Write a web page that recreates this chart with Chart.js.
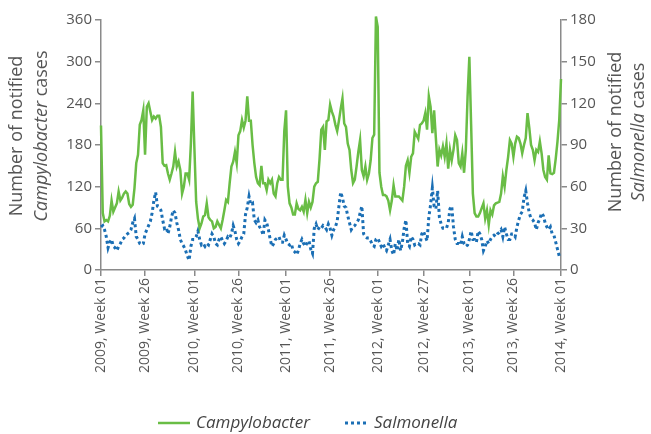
<!DOCTYPE html>
<html>
<head>
<meta charset="utf-8">
<title>Campylobacter and Salmonella cases</title>
<script src="https://cdn.jsdelivr.net/npm/chart.js@4"></script>
<style>
  body { margin: 0; background: #fff; }
  canvas { display: block; }
</style>
</head>
<body>
<canvas id="chart" width="651" height="434"></canvas>
<script>
// weeks per year, 2009 had 53 ISO weeks
var years = [2009, 2010, 2011, 2012, 2013];
var weeksInYear = [53, 52, 52, 52, 52];

var tickLabels = ['2009, Week 01', '2009, Week 26', '2010, Week 01', '2010, Week 26',
    '2011, Week 01', '2011, Week 26', '2012, Week 01', '2012, Week 27',
    '2013, Week 01', '2013, Week 26', '2014, Week 01'];

var campylobacter = [
    208, 82, 70, 72, 70, 78, 100, 84, 90, 96,
    113, 100, 104, 110, 113, 110, 95, 91, 94, 118,
    154, 166, 209, 216, 230, 166, 235, 240, 228, 216,
    221, 218, 222, 222, 206, 154, 150, 151, 139, 130,
    139, 149, 170, 149, 156, 144, 110, 120, 139, 139,
    130, 182, 257, 175, 98, 74, 60, 67, 77, 79,
    96, 76, 72, 70, 60, 62, 70, 65, 60, 72,
    86, 101, 98, 125, 149, 156, 170, 154, 194, 200,
    216, 205, 215, 250, 215, 215, 180, 154, 134, 125,
    122, 150, 125, 125, 115, 130, 125, 130, 110, 106,
    125, 134, 130, 130, 200, 230, 120, 96, 90, 80,
    80, 96, 88, 86, 91, 84, 101, 82, 98, 90,
    98, 120, 125, 127, 160, 202, 206, 173, 214, 216,
    238, 228, 221, 209, 200, 215, 232, 247, 211, 206,
    182, 173, 144, 125, 130, 149, 170, 187, 144, 135,
    149, 130, 139, 158, 190, 195, 365, 350, 140, 120,
    108, 108, 106, 100, 86, 100, 122, 106, 106, 106,
    103, 100, 120, 150, 158, 140, 163, 168, 199, 194,
    189, 209, 211, 215, 226, 202, 250, 235, 197, 230,
    190, 149, 173, 165, 178, 163, 182, 146, 173, 158,
    173, 194, 187, 154, 149, 168, 140, 173, 250, 307,
    210, 110, 82, 77, 77, 82, 89, 96, 74, 86,
    65, 86, 80, 93, 96, 97, 98, 110, 135, 120,
    144, 163, 187, 182, 163, 182, 192, 190, 182, 168,
    180, 190, 226, 205, 180, 173, 158, 173, 170, 185,
    168, 144, 134, 130, 165, 139, 138, 140, 160, 185,
    216, 275
];

var salmonella = [
    31, 32, 29, 24, 16, 20, 22, 17, 16, 14,
    17, 19, 22, 23, 25, 26, 27, 29, 34, 37,
    24, 22, 19, 18, 19, 26, 29, 32, 35, 41,
    50, 56, 46, 45, 43, 36, 30, 31, 26, 31,
    38, 43, 41, 34, 29, 22, 19, 17, 14, 10,
    7, 17, 22, 22, 24, 28, 22, 18, 19, 17,
    19, 18, 22, 26, 24, 19, 18, 22, 24, 21,
    19, 21, 24, 23, 26, 32, 28, 22, 19, 21,
    24, 26, 40, 45, 53, 47, 48, 36, 34, 36,
    31, 29, 25, 36, 34, 29, 22, 17, 19, 22,
    23, 24, 20, 20, 25, 22, 19, 18, 19, 14,
    13, 11, 14, 19, 22, 19, 17, 20, 21, 15,
    12, 30, 33, 29, 31, 30, 32, 31, 29, 33,
    30, 25, 29, 31, 35, 46, 56, 52, 46, 45,
    39, 34, 29, 31, 32, 34, 36, 41, 46, 26,
    24, 23, 23, 21, 18, 17, 22, 23, 20, 17,
    19, 16, 14, 18, 22, 14, 11, 19, 14, 22,
    14, 20, 30, 36, 19, 17, 24, 22, 18, 19,
    19, 18, 26, 28, 24, 21, 38, 47, 59, 46,
    44, 57, 38, 33, 30, 30, 30, 34, 44, 46,
    31, 22, 19, 19, 18, 24, 19, 17, 18, 22,
    28, 22, 22, 20, 28, 26, 22, 14, 17, 21,
    19, 22, 24, 25, 24, 26, 27, 29, 24, 31,
    26, 22, 22, 26, 26, 24, 31, 36, 40, 42,
    52, 57, 48, 41, 37, 36, 34, 29, 34, 37,
    41, 39, 34, 31, 29, 31, 26, 25, 20, 15,
    10, 10
];

var weekLabels = [];
years.forEach(function(y, i) {
    for (var w = 1; w <= weeksInYear[i]; w++) {
        weekLabels.push(y + ', Week ' + (w < 10 ? '0' + w : w));
    }
});
weekLabels.push('2014, Week 01');

var FONT = "'Open Sans', 'DejaVu Sans', sans-serif";
var TEXT = '#555';
var AXIS = '#8a8a8a';
var GREEN = '#69bd45';
var BLUE = '#1b6fb5';

// axis titles with the italic genus names, and the legend at the bottom
var labelsPlugin = {
    id: 'labels',
    afterDraw: function(chart) {
        var ctx = chart.ctx;
        var area = chart.chartArea;

        function drawParts(parts, x, y) {
            // parts: [[text, italic], ...] centred on x
            var total = 0;
            parts.forEach(function(p) {
                ctx.font = (p[1] ? 'italic ' : '') + '18px ' + FONT;
                total += ctx.measureText(p[0]).width;
            });
            var cx = x - total / 2;
            parts.forEach(function(p) {
                ctx.font = (p[1] ? 'italic ' : '') + '18px ' + FONT;
                ctx.fillText(p[0], cx, y);
                cx += ctx.measureText(p[0]).width;
            });
        }

        ctx.save();
        ctx.fillStyle = TEXT;
        ctx.textBaseline = 'middle';
        ctx.textAlign = 'left';

        var midY = 136;
        ctx.save();
        ctx.translate(17, midY);
        ctx.rotate(-Math.PI / 2);
        drawParts([['Number of notified', false]], 0, 0);
        drawParts([['Campylobacter', true], [' cases', false]], 0, 25);
        ctx.restore();

        ctx.save();
        ctx.translate(616, 132);
        ctx.rotate(-Math.PI / 2);
        drawParts([['Number of notified', false]], 0, 0);
        drawParts([['Salmonella', true], [' cases', false]], 0, 23);
        ctx.restore();

        // legend
        var ly = 423;
        ctx.lineWidth = 2.5;
        ctx.strokeStyle = GREEN;
        ctx.beginPath();
        ctx.moveTo(158, ly);
        ctx.lineTo(190, ly);
        ctx.stroke();

        ctx.strokeStyle = BLUE;
        ctx.lineWidth = 3;
        ctx.setLineDash([3, 3]);
        ctx.beginPath();
        ctx.moveTo(345, ly);
        ctx.lineTo(368, ly);
        ctx.stroke();
        ctx.setLineDash([]);

        ctx.font = 'italic 17px ' + FONT;
        ctx.fillStyle = '#444';
        ctx.fillText('Campylobacter', 196, ly);
        ctx.fillText('Salmonella', 374, ly);
        ctx.restore();
    }
};

var ctxChart = document.getElementById('chart').getContext('2d');
var chart = new Chart(ctxChart, {
    type: 'line',
    data: {
        labels: weekLabels,
        datasets: [
            {
                label: 'Campylobacter',
                data: campylobacter,
                yAxisID: 'yLeft',
                borderColor: GREEN,
                borderWidth: 2.5,
                pointRadius: 0,
                tension: 0,
                clip: false
            },
            {
                label: 'Salmonella',
                data: salmonella,
                yAxisID: 'yRight',
                borderColor: BLUE,
                borderWidth: 3,
                borderDash: [3, 3],
                borderCapStyle: 'butt',
                pointRadius: 0,
                tension: 0
            }
        ]
    },
    options: {
        responsive: false,
        animation: false,
        layout: { padding: { top: 20, left: 0, right: 0, bottom: 0 } },
        plugins: {
            legend: { display: false },
            tooltip: { enabled: false }
        },
        scales: {
            x: {
                type: 'category',
                offset: false,
                grid: { drawOnChartArea: false, drawTicks: true, tickLength: 6, color: AXIS, lineWidth: 1.5 },
                border: { color: AXIS, width: 1.5 },
                ticks: {
                    autoSkip: false,
                    maxRotation: 90,
                    minRotation: 90,
                    padding: 2,
                    color: TEXT,
                    font: { family: FONT, size: 14 }
                },
                afterBuildTicks: function(scale) {
                    scale.ticks = scale.ticks.filter(function(t) {
                        return tickLabels.indexOf(weekLabels[t.value]) !== -1;
                    });
                },
                afterFit: function(scale) { scale.height = 164; }
            },
            yLeft: {
                position: 'left',
                min: 0,
                max: 360,
                grid: { drawOnChartArea: false, tickLength: 6, color: AXIS, lineWidth: 1.5 },
                border: { color: AXIS, width: 1.5 },
                ticks: { stepSize: 60, padding: 3, color: TEXT, font: { family: FONT, size: 15 } },
                afterFit: function(scale) { scale.width = 101; }
            },
            yRight: {
                position: 'right',
                min: 0,
                max: 180,
                grid: { drawOnChartArea: false, tickLength: 6, color: AXIS, lineWidth: 1.5 },
                border: { color: AXIS, width: 1.5 },
                ticks: { stepSize: 30, padding: 3, color: TEXT, font: { family: FONT, size: 15 } },
                afterFit: function(scale) { scale.width = 90; }
            }
        }
    },
    plugins: [labelsPlugin]
});
</script>
</body>
</html>
